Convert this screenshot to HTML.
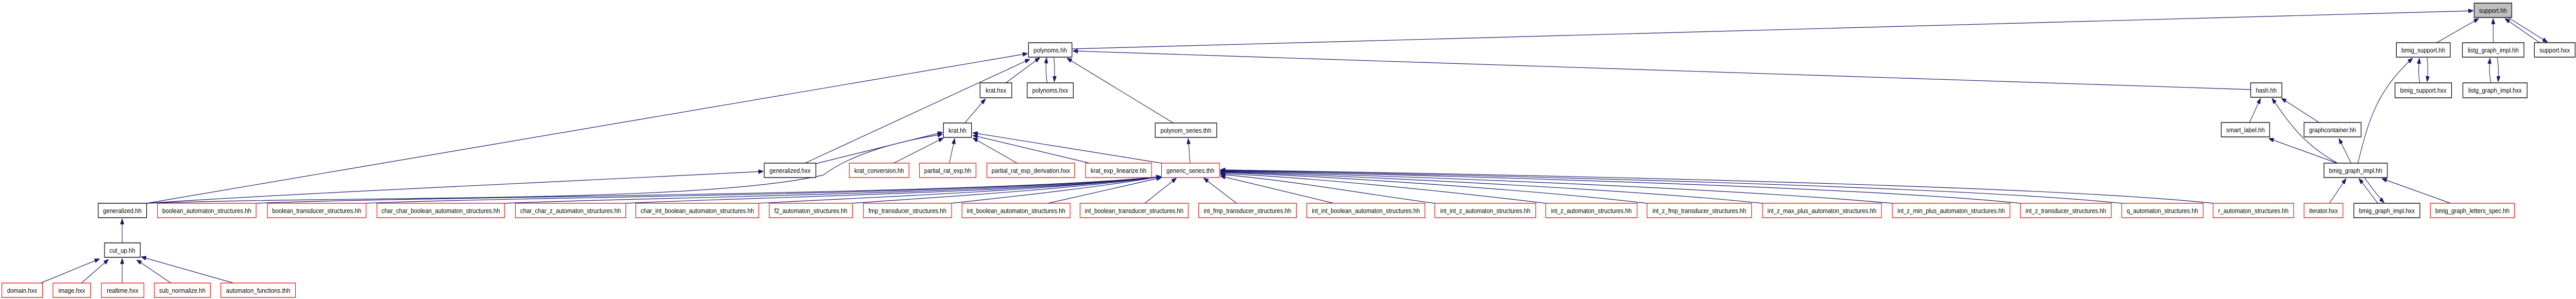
<!DOCTYPE html>
<html><head><meta charset="utf-8"><style>
html,body{margin:0;padding:0;background:#fff;width:100%;height:100%;overflow:hidden;}
svg{display:block;width:100vw;height:100vh;}
text{font-family:"Liberation Sans",Arial,sans-serif;font-size:13px;fill:#000;text-anchor:middle;}
.n{fill:#fff;stroke:#000;stroke-width:1.4;}
.r{fill:#fff;stroke:#ff0000;stroke-width:1.3;}
.g{fill:#bfbfbf;stroke:#000;stroke-width:1.4;}
.e{fill:none;stroke:#191970;stroke-width:1.2;}
</style></head><body>
<svg viewBox="0 0 5693 581" preserveAspectRatio="none" xmlns="http://www.w3.org/2000/svg">
<defs><marker id="a" markerWidth="11" markerHeight="8" refX="11" refY="4" orient="auto" markerUnits="userSpaceOnUse"><path d="M0,0 L11,4 L0,8 z" fill="#191970" stroke="#191970"/></marker></defs>
<g class="e" marker-end="url(#a)">
<path d="M2369,95 L5466,21"/>
<path d="M4974,174 L2371,99"/>
<path d="M5385,83 L5478,36"/>
<path d="M5510,83 L5510,36"/>
<path d="M5613,83 L5536,36"/>
<path d="M5543,34 L5630,82"/>
<path d="M5348,161 C5344,145 5345,130 5347,113"/>
<path d="M5364,112 C5366,128 5366,142 5364,159"/>
<path d="M5505,161 C5501,145 5501,130 5503,113"/>
<path d="M5519,112 C5522,128 5522,142 5521,159"/>
<path d="M5211,317 C5235,230 5255,175 5332,113"/>
<path d="M4971,239 L4996,191"/>
<path d="M5127,239 L5042,191"/>
<path d="M5166,317 C5090,280 5060,240 5021,191"/>
<path d="M5165,317 L5014,269"/>
<path d="M5196,317 L5169,269"/>
<path d="M5148,395 L5185,347"/>
<path d="M5255,395 C5240,378 5230,365 5213,347"/>
<path d="M5226,346 C5240,362 5252,378 5269,394"/>
<path d="M5416,395 L5264,347"/>
<path d="M2223,161 L2298,112"/>
<path d="M2314,161 C2311,140 2311,130 2313,112"/>
<path d="M2329,112 C2331,130 2331,142 2330,159"/>
<path d="M2593,239 L2358,113"/>
<path d="M2132,239 L2178,192"/>
<path d="M1779,317 L2276,115"/>
<path d="M324,395 L2271,104"/>
<path d="M324,395 C600,378 1200,355 1687,333"/>
<path d="M1803,318 L2083,257"/>
<path d="M324,395 C800,380 1550,395 1820,340 C1880,300 1980,275 2083,261"/>
<path d="M1975,317 L2085,268"/>
<path d="M2098,317 L2110,269"/>
<path d="M2248,317 L2150,268"/>
<path d="M2408,317 L2150,263"/>
<path d="M2567,317 L2150,258"/>
<path d="M2630,317 L2626,269"/>
<path d="M270,472 L270,425"/>
<path d="M90,550 L220,503"/>
<path d="M180,550 L240,504"/>
<path d="M270,550 L270,502"/>
<path d="M378,550 L302,505"/>
<path d="M516,550 L312,499"/>
<path d="M566,395 C900,382 2200,378 2566,343"/>
<path d="M809,395 C1100,383 2200,378 2566,343"/>
<path d="M1115,395 C1400,384 2250,376 2566,343"/>
<path d="M1383,395 C1600,385 2300,374 2566,343"/>
<path d="M1677,395 C1850,386 2300,372 2566,343"/>
<path d="M1884,395 C2000,387 2350,370 2566,343"/>
<path d="M2103,395 C2200,385 2400,368 2566,343"/>
<path d="M2316,395 L2567,345"/>
<path d="M2530,395 L2600,346"/>
<path d="M2733,395 L2660,346"/>
<path d="M2948,395 L2697,342"/>
<path d="M3171,395 C3000,375 2850,350 2697,339"/>
<path d="M3416,395 C3200,372 2900,345 2697,337"/>
<path d="M3640,395 C3400,370 2950,343 2697,335"/>
<path d="M3895,395 C3600,368 3000,342 2697,334"/>
<path d="M4182,395 C3800,365 3050,340 2697,333"/>
<path d="M4465,395 C4100,362 3100,339 2697,332"/>
<path d="M4689,395 C4300,360 3150,338 2697,331"/>
<path d="M4891,395 C4500,358 3200,337 2697,330"/>
</g>
<g>
<rect class="g" x="5468" y="6" width="83" height="28"/><text x="5509.5" y="25">support.hh</text>
<rect class="n" x="2273" y="83" width="96" height="28"/><text x="2321" y="102">polynoms.hh</text>
<rect class="n" x="5296" y="83" width="119" height="28"/><text x="5355.5" y="102">bmig_support.hh</text>
<rect class="n" x="5442" y="83" width="136" height="28"/><text x="5510" y="102">listg_graph_impl.hh</text>
<rect class="n" x="5601" y="83" width="90" height="28"/><text x="5646" y="102">support.hxx</text>
<rect class="n" x="2166" y="161" width="70" height="29"/><text x="2201" y="180">krat.hxx</text>
<rect class="n" x="2270" y="161" width="102" height="29"/><text x="2321" y="180">polynoms.hxx</text>
<rect class="n" x="4974" y="161" width="69" height="28"/><text x="5008.5" y="180">hash.hh</text>
<rect class="n" x="5293" y="161" width="125" height="29"/><text x="5355.5" y="180">bmig_support.hxx</text>
<rect class="n" x="5443" y="161" width="142" height="29"/><text x="5514" y="180">listg_graph_impl.hxx</text>
<rect class="n" x="2085" y="239" width="62" height="28"/><text x="2116" y="258">krat.hh</text>
<rect class="n" x="2553" y="239" width="136" height="28"/><text x="2621" y="258">polynom_series.thh</text>
<rect class="n" x="4909" y="238" width="107" height="28"/><text x="4962.5" y="257">smart_label.hh</text>
<rect class="n" x="5092" y="238" width="126" height="28"/><text x="5155" y="257">graphcontainer.hh</text>
<rect class="n" x="1689" y="317" width="114" height="28"/><text x="1746" y="336">generalized.hxx</text>
<rect class="r" x="1877" y="317" width="132" height="28"/><text x="1943" y="336">krat_conversion.hh</text>
<rect class="r" x="2032" y="317" width="125" height="28"/><text x="2094.5" y="336">partial_rat_exp.hh</text>
<rect class="r" x="2181" y="317" width="194" height="28"/><text x="2278" y="336">partial_rat_exp_derivation.hxx</text>
<rect class="r" x="2399" y="317" width="146" height="28"/><text x="2472" y="336">krat_exp_linearize.hh</text>
<rect class="r" x="2567" y="317" width="128" height="28"/><text x="2631" y="336">generic_series.thh</text>
<rect class="n" x="5136" y="317" width="140" height="28"/><text x="5206" y="336">bmig_graph_impl.hh</text>
<rect class="n" x="217" y="395" width="107" height="28"/><text x="270.5" y="414">generalized.hh</text>
<rect class="r" x="348" y="395" width="218" height="28"/><text x="457" y="414">boolean_automaton_structures.hh</text>
<rect class="r" x="591" y="395" width="218" height="28"/><text x="700" y="414">boolean_transducer_structures.hh</text>
<rect class="r" x="833" y="395" width="282" height="28"/><text x="974" y="414">char_char_boolean_automaton_structures.hh</text>
<rect class="r" x="1139" y="395" width="244" height="28"/><text x="1261" y="414">char_char_z_automaton_structures.hh</text>
<rect class="r" x="1405" y="395" width="272" height="28"/><text x="1541" y="414">char_int_boolean_automaton_structures.hh</text>
<rect class="r" x="1700" y="395" width="184" height="28"/><text x="1792" y="414">f2_automaton_structures.hh</text>
<rect class="r" x="1908" y="395" width="195" height="28"/><text x="2005.5" y="414">fmp_transducer_structures.hh</text>
<rect class="r" x="2126" y="395" width="239" height="28"/><text x="2245.5" y="414">int_boolean_automaton_structures.hh</text>
<rect class="r" x="2387" y="395" width="239" height="28"/><text x="2506.5" y="414">int_boolean_transducer_structures.hh</text>
<rect class="r" x="2649" y="395" width="216" height="28"/><text x="2757" y="414">int_fmp_transducer_structures.hh</text>
<rect class="r" x="2888" y="395" width="261" height="28"/><text x="3018.5" y="414">int_int_boolean_automaton_structures.hh</text>
<rect class="r" x="3171" y="395" width="223" height="28"/><text x="3282.5" y="414">int_int_z_automaton_structures.hh</text>
<rect class="r" x="3416" y="395" width="202" height="28"/><text x="3517" y="414">int_z_automaton_structures.hh</text>
<rect class="r" x="3640" y="395" width="231" height="28"/><text x="3755.5" y="414">int_z_fmp_transducer_structures.hh</text>
<rect class="r" x="3895" y="395" width="263" height="28"/><text x="4026.5" y="414">int_z_max_plus_automaton_structures.hh</text>
<rect class="r" x="4182" y="395" width="260" height="28"/><text x="4312" y="414">int_z_min_plus_automaton_structures.hh</text>
<rect class="r" x="4465" y="395" width="201" height="28"/><text x="4565.5" y="414">int_z_transducer_structures.hh</text>
<rect class="r" x="4689" y="395" width="180" height="28"/><text x="4779" y="414">q_automaton_structures.hh</text>
<rect class="r" x="4891" y="395" width="178" height="28"/><text x="4980" y="414">r_automaton_structures.hh</text>
<rect class="r" x="5092" y="395" width="86" height="28"/><text x="5135" y="414">iterator.hxx</text>
<rect class="n" x="5202" y="395" width="146" height="28"/><text x="5275" y="414">bmig_graph_impl.hxx</text>
<rect class="r" x="5371" y="395" width="186" height="28"/><text x="5464" y="414">bmig_graph_letters_spec.hh</text>
<rect class="n" x="231" y="472" width="79" height="28"/><text x="270.5" y="491">cut_up.hh</text>
<rect class="r" x="4" y="550" width="90" height="28"/><text x="49" y="569">domain.hxx</text>
<rect class="r" x="117" y="550" width="83" height="28"/><text x="158.5" y="569">image.hxx</text>
<rect class="r" x="224" y="550" width="94" height="28"/><text x="271" y="569">realtime.hxx</text>
<rect class="r" x="341" y="550" width="124" height="28"/><text x="403" y="569">sub_normalize.hh</text>
<rect class="r" x="488" y="550" width="165" height="28"/><text x="570.5" y="569">automaton_functions.thh</text>
</g>
</svg>
</body></html>
